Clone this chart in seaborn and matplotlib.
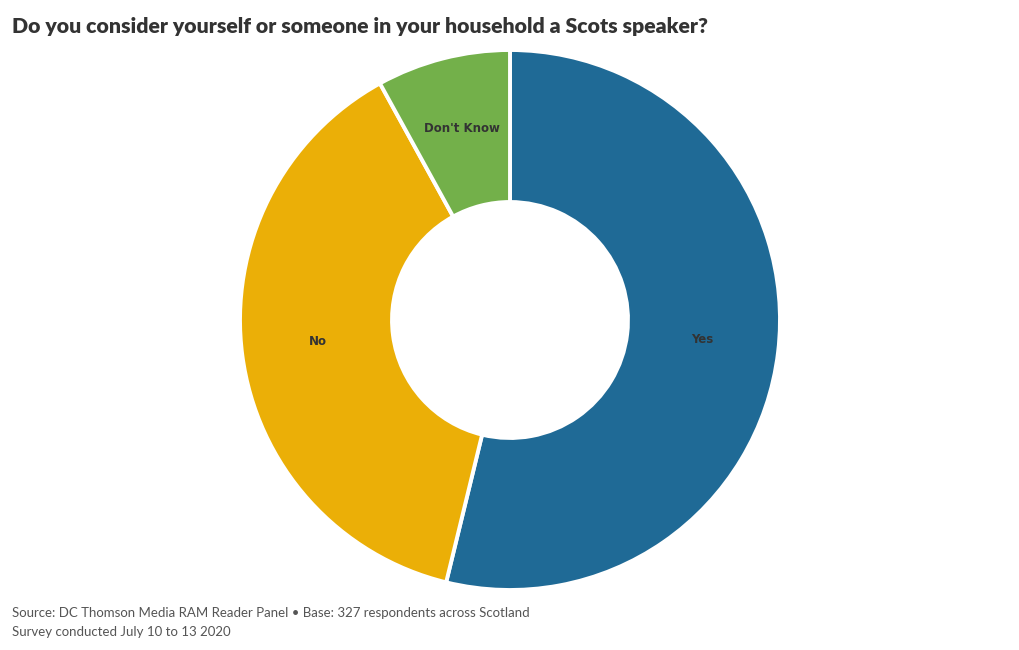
import matplotlib
matplotlib.use("Agg")
import numpy as np
import matplotlib.pyplot as plt
import seaborn as sns

# Survey answers (share of 327 respondents, %)
answers = ["Yes", "No", "Don't Know"]
shares = [53.8, 38.2, 8.0]
colors = ["#1f6a96", "#ebaf07", "#73b04a"]

title = "Do you consider yourself or someone in your household a Scots speaker?"
footer = ["Source: DC Thomson Media RAM Reader Panel \u2022 Base: 327 respondents across Scotland",
          "Survey conducted July 10 to 13 2020"]

sns.set_style("white")
plt.rcParams['font.family'] = ['Lato', 'DejaVu Sans']

fig = plt.figure(figsize=(10.2, 6.5), dpi=100)
ax = fig.add_axes([240 / 1020, 60 / 650, 540 / 1020, 540 / 650])

ring = 0.563
wedges, texts = ax.pie(
    shares, colors=colors, startangle=90, counterclock=False,
    radius=1.0, labels=answers, labeldistance=None,
    wedgeprops=dict(width=ring, edgecolor="white", linewidth=2.8, joinstyle="round"),
)

# labels in the middle of the ring
start = 90.0
for name, share in zip(answers, shares):
    sweep = share / 100 * 360
    mid = np.deg2rad(start - sweep / 2)
    r = 1 - ring / 2
    ax.text(r * np.cos(mid), r * np.sin(mid) + 0.015, name, ha="center", va="center",
            fontsize=8.5, fontweight="bold", color="#333333", family="DejaVu Sans")
    start -= sweep

ax.set_xlim(-1, 1)
ax.set_ylim(-1, 1)
ax.set_aspect("equal")
ax.axis("off")

fig.text(12 / 1020, 1 - 26 / 650, title, fontsize=15.3, fontweight="heavy",
         color="#333333", va="center", ha="left")
fig.text(12 / 1020, 1 - 613 / 650, footer[0], fontsize=9.5, color="#555555", va="center")
fig.text(12 / 1020, 1 - 632 / 650, footer[1], fontsize=9.5, color="#555555", va="center")

fig.savefig("out.png", dpi=100, facecolor="white")
